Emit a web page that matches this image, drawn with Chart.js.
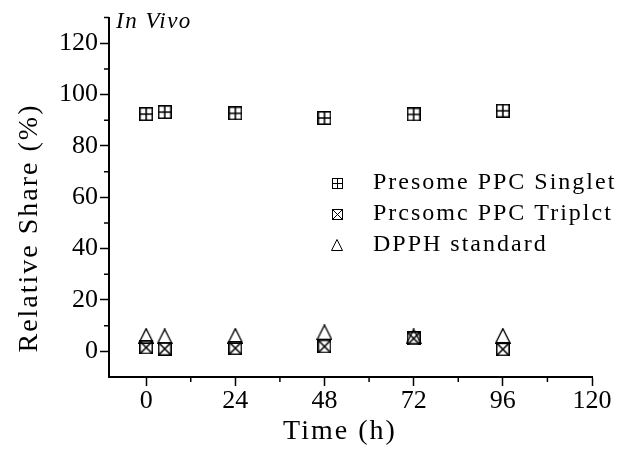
<!DOCTYPE html>
<html lang="en">
<head>
    <meta charset="UTF-8">
    <title>In Vivo Relative Share</title>
    <script src="https://cdn.jsdelivr.net/npm/chart.js"></script>
    <style>
        body { margin: 0; background: #fff; }
        #wrap { width: 636px; height: 450px; }
    </style>
</head>
<body>
    <div id="wrap"><canvas id="shareChart"></canvas></div>

    <script>
        // values
        const timeSinglet = [0, 5, 24, 48, 72, 96];
        const singlet = [92.4, 93.2, 92.7, 90.9, 92.3, 93.7];
        const timeTriplet = [0, 5, 24, 48, 72, 96];
        const triplet = [1.5, 1.0, 1.2, 1.9, 5.0, 0.8];
        const timeDpph = [0, 5, 24, 48, 72, 96];
        const dpph = [6.0, 5.8, 6.0, 7.4, 5.8, 6.0];
        const legendLabels = ['Presome PPC Singlet', 'Prcsomc PPC Triplct', 'DPPH standard'];
        const xTicks = [0, 24, 48, 72, 96, 120];
        const yTicks = [0, 20, 40, 60, 80, 100, 120];
        const xTitle = 'Time (h)';
        const yTitle = 'Relative Share (%)';

        const SERIF = '"Liberation Serif", "Times New Roman", serif';

        // marker glyphs drawn on small canvases
        function makeMarker(kind, size, lw) {
            const c = document.createElement('canvas');
            c.width = size; c.height = size;
            const g = c.getContext('2d');
            g.strokeStyle = '#000';
            g.lineWidth = lw;
            const a = lw / 2, b = size - a, m = size / 2;
            if (kind === 'tri') {
                g.beginPath();
                g.moveTo(m, a);
                g.lineTo(b, b);
                g.lineTo(a, b);
                g.closePath();
                g.stroke();
            } else {
                g.strokeRect(a, a, b - a, b - a);
                g.beginPath();
                if (kind === 'plus') {
                    g.moveTo(m, a); g.lineTo(m, b);
                    g.moveTo(a, m); g.lineTo(b, m);
                } else {
                    g.moveTo(a, a); g.lineTo(b, b);
                    g.moveTo(b, a); g.lineTo(a, b);
                }
                g.stroke();
            }
            return c;
        }

        const mkSinglet = makeMarker('plus', 14, 1.6);
        const mkTriplet = makeMarker('cross', 14, 1.6);
        const mkDpph = makeMarker('tri', 16, 1.4);
        const legendMarkers = [makeMarker('plus', 11, 1), makeMarker('cross', 11, 1), makeMarker('tri', 12, 1)];

        function pts(xs, ys) {
            return xs.map((x, i) => ({ x: x, y: ys[i] }));
        }

        // minor ticks, titles, "In Vivo" label and the legend
        const extras = {
            id: 'extras',
            afterDraw(chart) {
                const ctx = chart.ctx;
                const xs = chart.scales.x, ys = chart.scales.y;
                ctx.save();
                ctx.strokeStyle = '#000';
                ctx.lineWidth = 1.5;
                ctx.beginPath();
                for (let v = 12; v < 120; v += 24) {
                    const px = xs.getPixelForValue(v);
                    ctx.moveTo(px, xs.top); ctx.lineTo(px, xs.top + 5);
                }
                for (let v = 10; v <= 130; v += 20) {
                    const py = ys.getPixelForValue(v);
                    ctx.moveTo(ys.right, py); ctx.lineTo(ys.right - 5, py);
                }
                ctx.stroke();

                ctx.fillStyle = '#000';
                ctx.textBaseline = 'middle';

                // axis titles
                ctx.letterSpacing = '2px';
                ctx.font = '28px ' + SERIF;
                ctx.textAlign = 'center';
                ctx.fillText(xTitle, 340, 432);
                ctx.save();
                ctx.translate(30, 228);
                ctx.rotate(-Math.PI / 2);
                ctx.fillText(yTitle, 0, 0);
                ctx.restore();

                ctx.textAlign = 'left';
                ctx.letterSpacing = '1.5px';
                ctx.font = 'italic 23px ' + SERIF;
                ctx.fillText('In Vivo', chart.chartArea.left + 7, 22);

                ctx.letterSpacing = '2px';
                ctx.font = '24px ' + SERIF;
                legendLabels.forEach((t, i) => {
                    const y = 183 + i * 31;
                    const mk = legendMarkers[i];
                    ctx.drawImage(mk, Math.round(337 - mk.width / 2), Math.round(y - mk.height / 2));
                    ctx.fillText(t, 373, y);
                });
                ctx.restore();
            }
        };

        const ctx = document.getElementById('shareChart').getContext('2d');

        new Chart(ctx, {
            type: 'scatter',
            data: {
                datasets: [
                    { label: legendLabels[0], data: pts(timeSinglet, singlet), pointStyle: mkSinglet },
                    { label: legendLabels[1], data: pts(timeTriplet, triplet), pointStyle: mkTriplet },
                    { label: legendLabels[2], data: pts(timeDpph, dpph), pointStyle: mkDpph }
                ]
            },
            options: {
                responsive: true,
                maintainAspectRatio: false,
                animation: false,
                layout: { padding: { top: 10, right: 44, left: 0, bottom: 0 } },
                plugins: {
                    legend: { display: false },
                    tooltip: { enabled: false }
                },
                scales: {
                    x: {
                        type: 'linear',
                        min: -10,
                        max: 120,
                        afterBuildTicks(scale) { scale.ticks = xTicks.map(v => ({ value: v })); },
                        afterFit(scale) { scale.height = 73; },
                        ticks: {
                            color: '#000',
                            font: { family: SERIF, size: 26 },
                            padding: 0
                        },
                        grid: { drawOnChartArea: false, tickLength: 9, tickWidth: 1.5, color: '#000' },
                        border: { color: '#000', width: 2 }
                    },
                    y: {
                        min: -10,
                        max: 130,
                        afterBuildTicks(scale) { scale.ticks = yTicks.map(v => ({ value: v })); },
                        afterFit(scale) { scale.width = 109; },
                        ticks: {
                            color: '#000',
                            font: { family: SERIF, size: 26 },
                            padding: 2
                        },
                        grid: { drawOnChartArea: false, tickLength: 9, tickWidth: 1.5, color: '#000' },
                        border: { color: '#000', width: 2 }
                    }
                }
            },
            plugins: [extras]
        });
    </script>
</body>
</html>
